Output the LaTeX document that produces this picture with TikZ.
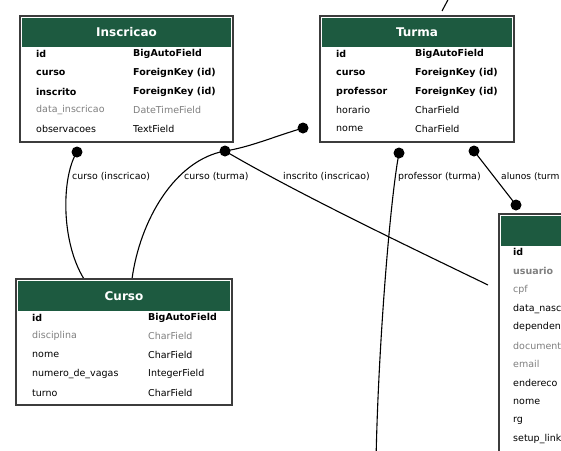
\documentclass[tikz,border=0pt]{standalone}
\usepackage{fontspec}
\setmainfont{DejaVu Sans}
\definecolor{hdrgreen}{RGB}{29,90,64}
\definecolor{fgray}{RGB}{128,128,128}
\definecolor{framec}{RGB}{60,60,60}
\begin{document}
\begin{tikzpicture}[x=1pt,y=-1pt,
  boxframe/.style={draw=framec,line width=1.3pt,fill=white,inner sep=0pt,outer sep=0pt,anchor=north west},
  hdr/.style={fill=hdrgreen,inner sep=0pt,outer sep=0pt,anchor=north west},
  ttl/.style={text=white,font=\fontsize{12}{14}\selectfont\bfseries,inner sep=0pt},
  fld/.style={anchor=west,inner sep=0pt,font=\fontsize{9.5}{11}\selectfont},
  fldb/.style={fld,font=\fontsize{9.5}{11}\selectfont\bfseries},
  fldg/.style={fld,text=fgray},
  fldgb/.style={fldb,text=fgray},
  edge/.style={line width=1.1pt,black},
  dot/.style={circle,fill=black,inner sep=0pt,minimum size=11pt},
  lbl/.style={anchor=west,inner sep=0pt,font=\fontsize{9.4}{11}\selectfont}]
\useasboundingbox (0,0) rectangle (561,450);
\clip (0,0) rectangle (561,450);
\fill[white] (0,0) rectangle (561,450);

% ---------- connector end points ----------
\node[dot] (d1) at (77,152) {};
\node[dot] (d2) at (225,151) {};
\node[dot] (d3) at (303,128) {};
\node[dot] (d4) at (399,153) {};
\node[dot] (d5) at (474,151) {};
\node[dot] (d6) at (516,205) {};
\coordinate (c1) at (84,279);
\coordinate (c2) at (132,279);
\coordinate (c3) at (488,285);
\coordinate (c4) at (376,462);
\coordinate (c5) at (442,11);
\coordinate (c6) at (450,-4);

% ---------- connectors ----------
\draw[edge] (d1.center) .. controls (62,175) and (60,240) .. (c1);
\draw[edge] (d3.center) .. controls (270,138) and (250,147) .. (d2.center)
                         .. controls (175,160) and (140,220) .. (c2);
\draw[edge] (d2.center) .. controls (300,195) and (420,252) .. (c3);
\draw[edge] (d4.center) .. controls (390,200) and (378,350) .. (c4);
\draw[edge] (d5.center) -- (d6.center);
\draw[edge] (c6) -- (c5);

% ---------- labels ----------
\node[lbl] (l1) at (72,177) {curso (inscricao)};
\node[lbl] (l2) at (184,177) {curso (turma)};
\node[lbl] (l3) at (283,177) {inscrito (inscricao)};
\node[lbl] (l4) at (398,177) {professor (turma)};
\node[lbl,font=\fontsize{9.1}{11}\selectfont] (l5) at (501,177) {alunos (turm};

% ---------- Inscricao ----------
\node[boxframe,minimum width=213pt,minimum height=126pt] (inscricao) at (20,16) {};
\node[hdr,minimum width=209pt,minimum height=29pt] (inscricaoh) at (22,18) {};
\node[ttl] (inscricaot) at (inscricaoh.center) {Inscricao};
\node[fldb] (i1a) at (36,54) {id};
\node[fldb] (i1b) at (133,54) {BigAutoField};
\node[fldb] (i2a) at (36,73) {curso};
\node[fldb] (i2b) at (133,73) {ForeignKey (id)};
\node[fldb] (i3a) at (36,92) {inscrito};
\node[fldb] (i3b) at (133,92) {ForeignKey (id)};
\node[fldg] (i4a) at (36,110) {data\_inscricao};
\node[fldg] (i4b) at (133,110) {DateTimeField};
\node[fld] (i5a) at (36,129) {observacoes};
\node[fld] (i5b) at (133,129) {TextField};

% ---------- Turma ----------
\node[boxframe,minimum width=194pt,minimum height=126pt] (turma) at (320,16) {};
\node[hdr,minimum width=190pt,minimum height=29pt] (turmah) at (322,18) {};
\node[ttl] (turmat) at (turmah.center) {Turma};
\node[fldb] (t1a) at (336,54) {id};
\node[fldb] (t1b) at (415,54) {BigAutoField};
\node[fldb] (t2a) at (336,73) {curso};
\node[fldb] (t2b) at (415,73) {ForeignKey (id)};
\node[fldb] (t3a) at (336,92) {professor};
\node[fldb] (t3b) at (415,92) {ForeignKey (id)};
\node[fld] (t4a) at (336,110) {horario};
\node[fld] (t4b) at (415,110) {CharField};
\node[fld] (t5a) at (336,129) {nome};
\node[fld] (t5b) at (415,129) {CharField};

% ---------- Curso ----------
\node[boxframe,minimum width=216pt,minimum height=126pt] (curso) at (16,279) {};
\node[hdr,minimum width=212pt,minimum height=30pt] (cursoh) at (18,281) {};
\node[ttl] (cursot) at (cursoh.center) {Curso};
\node[fldb] (k1a) at (32,318) {id};
\node[fldb] (k1b) at (148,318) {BigAutoField};
\node[fldg] (k2a) at (32,336) {disciplina};
\node[fldg] (k2b) at (148,336) {CharField};
\node[fld] (k3a) at (32,355) {nome};
\node[fld] (k3b) at (148,355) {CharField};
\node[fld] (k4a) at (32,374) {numero\_de\_vagas};
\node[fld] (k4b) at (148,374) {IntegerField};
\node[fld] (k5a) at (32,393) {turno};
\node[fld] (k5b) at (148,393) {CharField};

% ---------- right model (cut off by the page edge) ----------
\node[boxframe,minimum width=120pt,minimum height=260pt] (aluno) at (499,214) {};
\node[hdr,minimum width=116pt,minimum height=30pt] (alunoh) at (501,216) {};
\node[fldb] (a1) at (513,252) {id};
\node[fldgb] (a2) at (513,271) {usuario};
\node[fldg] (a3) at (513,290) {cpf};
\node[fld] (a4) at (513,309) {data\_nasc};
\node[fld] (a5) at (513,327) {dependen};
\node[fldg] (a6) at (513,346) {document};
\node[fldg] (a7) at (513,364) {email};
\node[fld] (a8) at (513,383) {endereco};
\node[fld] (a9) at (513,402) {nome};
\node[fld] (a10) at (513,421) {rg};
\node[fld] (a11) at (513,439) {setup\_link};
\end{tikzpicture}
\end{document}
